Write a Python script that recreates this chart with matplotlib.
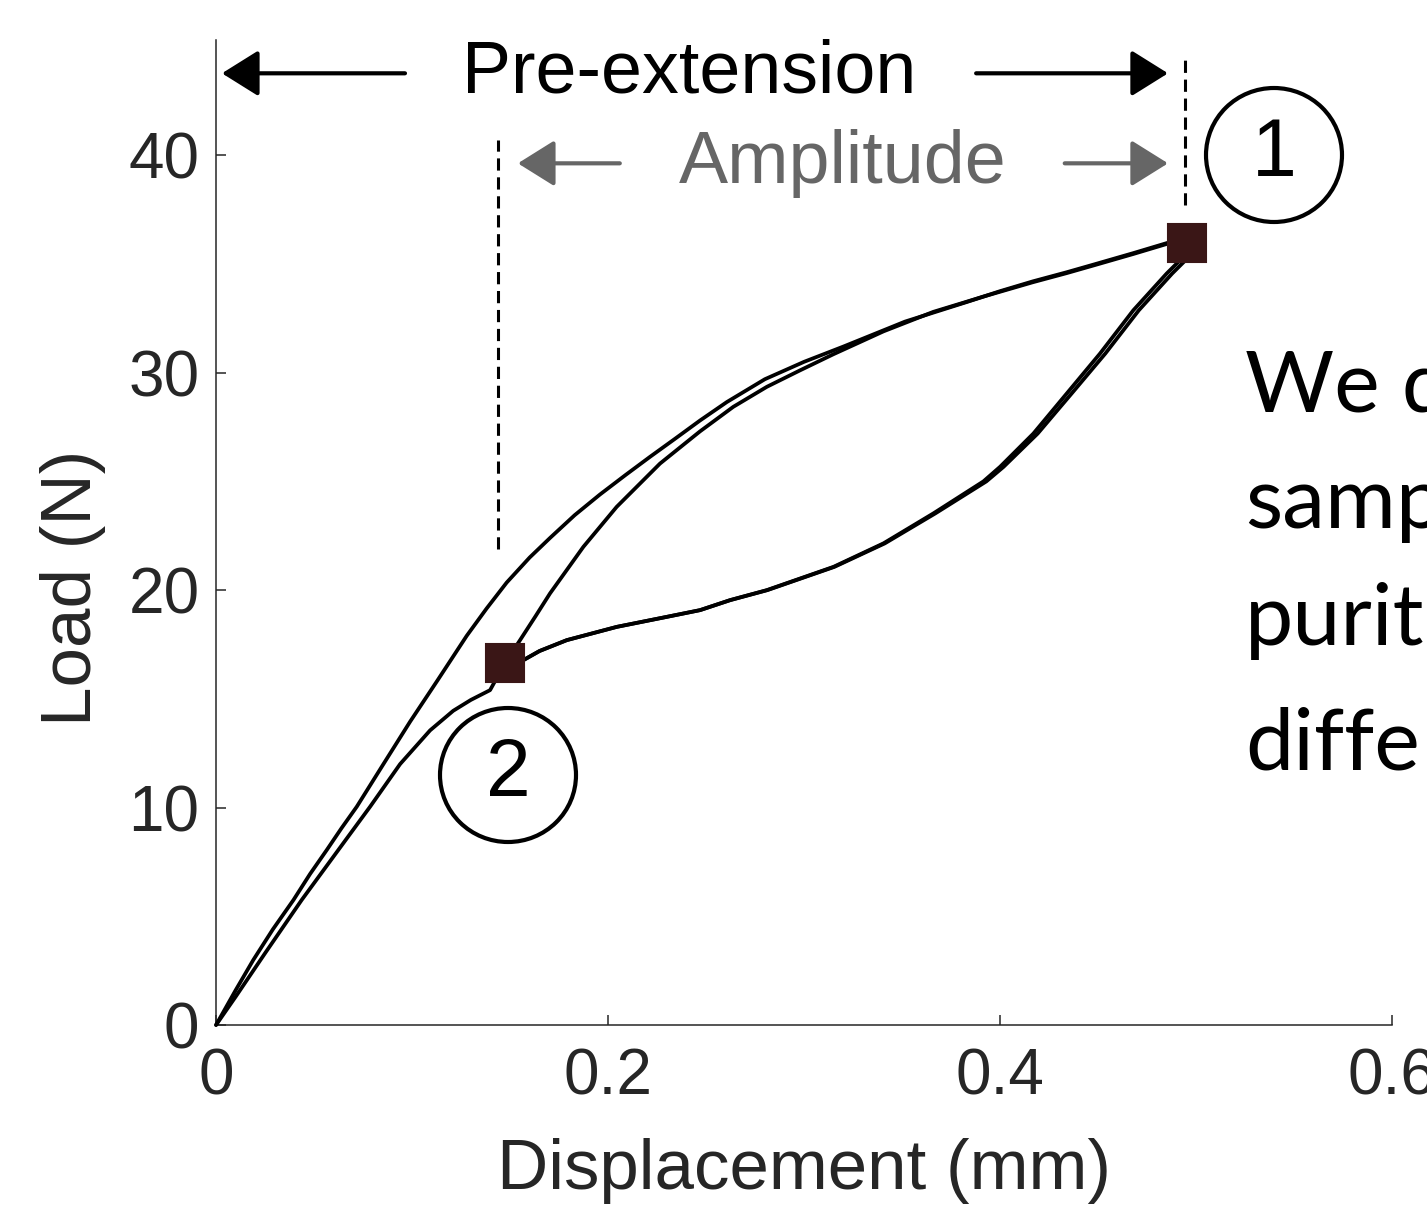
import matplotlib
matplotlib.use("Agg")
import matplotlib.pyplot as plt
from matplotlib.patches import Ellipse

plt.rcParams["font.family"] = ["Liberation Sans", "DejaVu Sans"]

# ---- data ----
# first loading, origin -> point 1
load1_x = [0.0, 0.0100, 0.0190, 0.0290, 0.0395, 0.0480, 0.0565, 0.0640, 0.0718, 0.0854,
           0.0990, 0.1130, 0.1279, 0.1380, 0.1483, 0.1600, 0.1704, 0.1830, 0.1959, 0.2090,
           0.2214, 0.2340, 0.2469, 0.2606, 0.2800, 0.3000, 0.3200, 0.3515, 0.3830, 0.4000,
           0.4167, 0.4340, 0.4480, 0.4680, 0.4865, 0.4954]
load1_y = [0.0, 1.60, 2.99, 4.40, 5.75, 6.95, 8.05, 9.05, 10.04, 12.00,
           13.95, 15.85, 17.90, 19.15, 20.35, 21.50, 22.40, 23.45, 24.40, 25.30,
           26.13, 26.95, 27.80, 28.65, 29.70, 30.50, 31.20, 32.35, 33.25, 33.75,
           34.20, 34.62, 34.98, 35.50, 36.00, 36.10]

# reloading, point 2 -> point 1
reload_x = [0.1474, 0.1551, 0.1630, 0.1704, 0.1874, 0.2044, 0.2265, 0.2469, 0.2639,
            0.2810, 0.2980, 0.3150, 0.3405, 0.3660, 0.3915, 0.4167, 0.4340, 0.4480,
            0.4680, 0.4865, 0.4954]
reload_y = [16.64, 17.70, 18.80, 19.85, 21.99, 23.83, 25.82, 27.30, 28.43,
            29.35, 30.11, 30.85, 31.90, 32.80, 33.50, 34.16, 34.58, 34.94,
            35.46, 35.96, 36.05]

# unloading, point 1 -> point 2 (two nearly identical cycles)
unload1_x = [0.4954, 0.4918, 0.4850, 0.4680, 0.4510, 0.4340, 0.4170, 0.4000, 0.3915,
             0.3660, 0.3405, 0.3150, 0.2810, 0.2622, 0.2469, 0.2299, 0.2044, 0.1789,
             0.1650, 0.1568, 0.1474]
unload1_y = [35.97, 35.17, 34.56, 32.87, 30.88, 29.04, 27.20, 25.67, 25.00,
             23.53, 22.15, 21.07, 20.00, 19.54, 19.08, 18.77, 18.31, 17.70,
             17.20, 16.78, 16.64]

unload2_x = [0.4954, 0.4946, 0.4878, 0.4708, 0.4537, 0.4365, 0.4192, 0.4018, 0.3930,
             0.3670, 0.3412, 0.3155, 0.2813, 0.2624, 0.2470, 0.2300, 0.2045, 0.1790,
             0.1651, 0.1568, 0.1474]
unload2_y = [35.97, 35.17, 34.56, 32.87, 30.88, 29.04, 27.20, 25.67, 25.00,
             23.53, 22.15, 21.07, 20.00, 19.54, 19.08, 18.77, 18.31, 17.70,
             17.20, 16.78, 16.64]

# final unloading, point 2 -> origin
final_x = [0.1474, 0.1398, 0.1300, 0.1210, 0.1092, 0.0939, 0.0786, 0.0624, 0.0437,
           0.0250, 0.0100, 0.0]
final_y = [16.64, 15.40, 14.95, 14.45, 13.55, 12.00, 10.04, 8.05, 5.75,
           3.30, 1.30, 0.0]

peak_pts_x = [0.4954, 0.1474]
peak_pts_y = [35.97, 16.64]

pre_ext_x = 0.4944
amp_x = 0.1439

xticks = [0, 0.2, 0.4, 0.6]
xtick_labels = ["0", "0.2", "0.4", "0.6"]
yticks = [0, 10, 20, 30, 40]

body_lines = ["We d", "samp", "purit", "diffe"]

# ---- figure ----
fig = plt.figure(figsize=(14.27, 12.06), dpi=100)
ax = fig.add_axes([0.1514, 0.1501, 0.8241, 0.8167])
grey = "#262626"

for xs, ys in [(load1_x, load1_y), (reload_x, reload_y), (unload1_x, unload1_y),
               (unload2_x, unload2_y), (final_x, final_y)]:
    ax.plot(xs, ys, color="black", lw=2.7, solid_capstyle="round",
            solid_joinstyle="round", clip_on=False, zorder=3)

ax.plot(peak_pts_x, peak_pts_y, ls="none", marker="s", ms=27, mfc="#3a1616",
        mec="#3a1616", mew=1.5, zorder=5, clip_on=False)

# dashed guides
ax.plot([pre_ext_x, pre_ext_x], [37.7, 44.6], color="black", ls=(0, (4, 2.2)),
        lw=2.2, clip_on=False)
ax.plot([amp_x, amp_x], [21.9, 40.7], color="black", ls=(0, (4, 2.2)),
        lw=2.2, clip_on=False)

ax.set_xlim(0, 0.6)
ax.set_ylim(0, 45.3)
ax.set_xticks(xticks)
ax.set_xticklabels(xtick_labels)
ax.set_yticks(yticks)
for s in ["top", "right"]:
    ax.spines[s].set_visible(False)
for s in ["left", "bottom"]:
    ax.spines[s].set_color(grey)
    ax.spines[s].set_linewidth(1.1)
ax.tick_params(direction="in", length=7, width=1.1, color=grey,
               labelcolor=grey, labelsize=46)
ax.tick_params(axis="x", pad=16)
ax.tick_params(axis="y", pad=12)
ax.set_xlabel("Displacement (mm)", fontsize=51, color=grey, labelpad=22)
ax.set_ylabel("Load (N)", fontsize=51, color=grey)
ax.yaxis.set_label_coords(-0.094, 0.4437)

# arrows
def arrow(x0, x1, y, col):
    ax.annotate("", xy=(x1, y), xytext=(x0, y), xycoords="data",
                annotation_clip=False,
                arrowprops=dict(arrowstyle="-|>,head_length=0.4,head_width=0.25",
                                mutation_scale=57, lw=3, color=col,
                                shrinkA=0, shrinkB=0))

arrow(0.0964, 0.003, 43.77, "black")
arrow(0.3878, 0.4857, 43.77, "black")
arrow(0.206, 0.154, 39.63, "#666666")
arrow(0.433, 0.4857, 39.63, "#666666")

ax.text(0.2415, 43.77, "Pre-extension", fontsize=53, color="black",
        ha="center", va="center", clip_on=False)
ax.text(0.3199, 39.63, "Amplitude", fontsize=53, color="#666666",
        ha="center", va="center", clip_on=False)

# circled numbers
for cx, cy, num in [(1274, 155, "1"), (508, 775, "2")]:
    fx, fy = cx / 1427, 1 - cy / 1206
    fig.patches.append(Ellipse((fx, fy), 136 / 1427, 134 / 1206, fill=False,
                               lw=3, ec="black", transform=fig.transFigure))
    fig.text(fx, fy, num, fontsize=58, ha="center", va="center", color="black")

# slide text cut off on the right
baselines = [412, 528, 645, 770]
for line, b in zip(body_lines, baselines):
    fig.text(1245 / 1427, 1 - b / 1206, line, fontsize=62, family=["Lato", "DejaVu Sans"],
             ha="left", va="baseline", color="black")

fig.savefig("out.png", dpi=100)
